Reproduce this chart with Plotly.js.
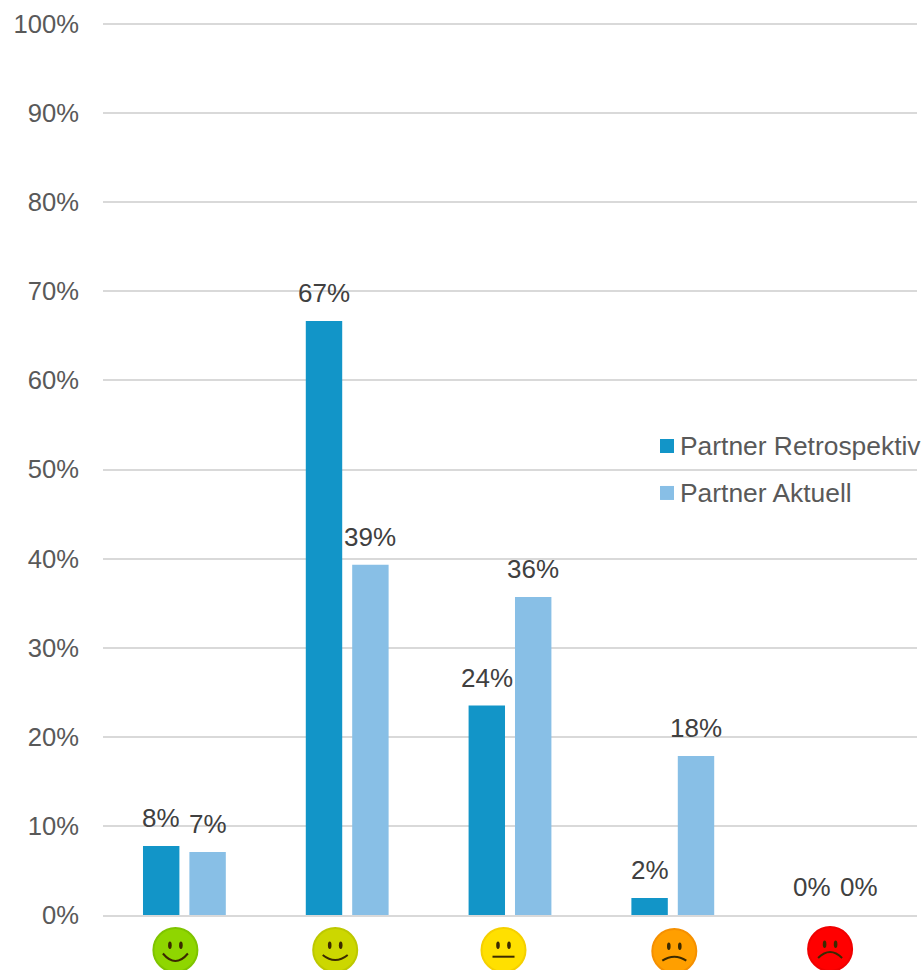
<!DOCTYPE html>
<html>
<head>
<meta charset="utf-8">
<script src="https://cdn.plot.ly/plotly-3.0.1.min.js"></script>
<style>html,body{margin:0;padding:0;background:#fff;overflow:hidden}</style>
</head>
<body>
<div id="chart" style="width:923px;height:970px"></div>
<script>
const categories = ['sehr zufrieden', 'zufrieden', 'neutral', 'unzufrieden', 'sehr unzufrieden'];
const seriesNames = ['Partner Retrospektiv', 'Partner Aktuell'];
const retrospektiv = [0.0775, 0.6667, 0.235, 0.019, 0];
const aktuell = [0.0707, 0.393, 0.357, 0.1785, 0];
const retrospektivLabels = ['8%', '67%', '24%', '2%', '0%'];
const aktuellLabels = ['7%', '39%', '36%', '18%', '0%'];
const seriesColors = ['#1295C8', '#88BFE6'];

// smiley faces under the categories
const faceFill = ['#8FD600', '#CCD700', '#FFE000', '#FF9F00', '#FF0000'];
const faceEdge = ['#7FC400', '#BDC800', '#F5D000', '#F59000', '#F00000'];
const faceShiftX = [-9, -12, -6.5, 1.5, -5.5];
const faceCenterY = [-35, -35, -35, -36, -34];
const mouthCurve = [15, 10, 0, -8, -12];   // control-point depth
const mouthY = [-3.5, -5, -6.7, -9.7, -9];   // mouth ends relative to face centre
const mouthHalf = [12.5, 12.5, 11, 12, 12];

const ink = '#3B2A00';
const shapes = [];
categories.forEach((c, i) => {
  const xa = (i + 0.5) / categories.length;
  const sx = faceShiftX[i], cy = faceCenterY[i];
  const base = {xref: 'paper', yref: 'paper', xsizemode: 'pixel', ysizemode: 'pixel', xanchor: xa, yanchor: 0, layer: 'above'};
  shapes.push(Object.assign({}, base, {type: 'circle', x0: sx - 22, x1: sx + 22, y0: cy - 22, y1: cy + 22,
    fillcolor: faceFill[i], line: {color: faceEdge[i], width: 2}}));
  [-5.5, 5.5].forEach(dx => shapes.push(Object.assign({}, base, {type: 'circle',
    x0: sx + dx - 1.8, x1: sx + dx + 1.8, y0: cy + 1, y1: cy + 8.5, fillcolor: ink, line: {width: 0}})));
  const my = cy + mouthY[i], mh = mouthHalf[i];
  shapes.push(Object.assign({}, base, {type: 'path',
    path: `M${sx - mh},${my} Q${sx},${my - mouthCurve[i]} ${sx + mh},${my}`,
    fillcolor: 'rgba(0,0,0,0)', line: {color: ink, width: 2}}));
});

// legend swatches
const legendSwatchY = [0.5252, 0.4726];
seriesColors.forEach((col, i) => {
  shapes.push({type: 'rect', xref: 'paper', yref: 'paper', xsizemode: 'pixel', ysizemode: 'pixel',
    xanchor: 0.6929, yanchor: legendSwatchY[i], x0: -7, x1: 7, y0: -7, y1: 7, fillcolor: col, line: {width: 0}, layer: 'above'});
});

const annotations = [];
const labelFont = {family: 'Liberation Sans, Arial, sans-serif', size: 26, color: '#404040'};
[[retrospektiv, retrospektivLabels, -23.25], [aktuell, aktuellLabels, 23.25]].forEach(([vals, labs, dx]) => {
  vals.forEach((v, i) => annotations.push({x: categories[i], y: v, xref: 'x', yref: 'y', text: labs[i], showarrow: false,
    xshift: dx, yshift: 28, xanchor: 'center', yanchor: 'middle', font: labelFont}));
});
seriesNames.forEach((n, i) => annotations.push({xref: 'paper', yref: 'paper', x: 0.7064, y: legendSwatchY[i], text: n, showarrow: false,
  xanchor: 'left', yanchor: 'middle', font: {family: 'Liberation Sans, Arial, sans-serif', size: 26.4, color: '#595959'}}));

const traces = [retrospektiv, aktuell].map((vals, i) => ({
  type: 'bar', name: seriesNames[i], x: categories, y: vals,
  marker: {color: seriesColors[i], line: {width: 0}}, hoverinfo: 'x+y'
}));

Plotly.newPlot('chart', traces, {
  width: 923, height: 970,
  margin: {l: 103, r: 6, t: 22, b: 55, pad: 0},
  paper_bgcolor: '#fff', plot_bgcolor: '#fff',
  barmode: 'group', bargap: 0.43, bargroupgap: 0.215,
  showlegend: false,
  xaxis: {type: 'category', categoryorder: 'array', categoryarray: categories, showticklabels: false,
    ticks: '', showgrid: false, zeroline: false, showline: true, linecolor: '#D9D9D9', linewidth: 2},
  yaxis: {range: [0, 1.00224], dtick: 0.1, tick0: 0, tickformat: '.0%', showgrid: true, gridcolor: '#D9D9D9', gridwidth: 2,
    zeroline: false, showline: false, ticks: '', ticklabelstandoff: 23,
    tickfont: {family: 'Liberation Sans, Arial, sans-serif', size: 25.6, color: '#595959'}},
  shapes, annotations
}, {staticPlot: true, displayModeBar: false});
</script>
</body>
</html>
